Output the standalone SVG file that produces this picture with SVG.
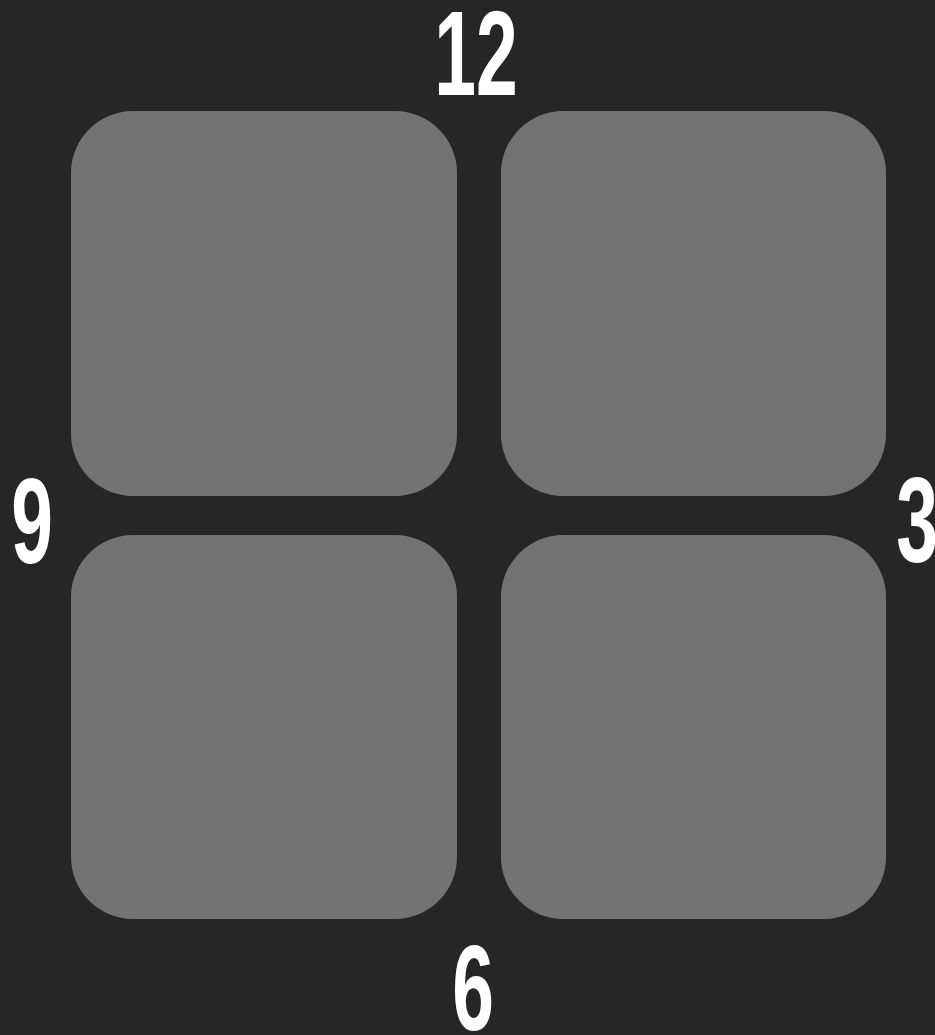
<svg xmlns="http://www.w3.org/2000/svg" width="935" height="1035" viewBox="0 0 935 1035">
<style>
.q{fill:#737373}
.n{fill:#ffffff;font-family:"Liberation Sans","DejaVu Sans",sans-serif;font-weight:bold;font-size:121px;text-anchor:middle}
</style>
<rect width="935" height="1035" fill="#262626"/>
<g id="q-top-left"><rect class="q" x="71" y="111" width="386" height="385" rx="62"/></g>
<g id="q-top-right"><rect class="q" x="501" y="111" width="385" height="385" rx="62"/></g>
<g id="q-bottom-left"><rect class="q" x="71" y="535" width="386" height="384" rx="62"/></g>
<g id="q-bottom-right"><rect class="q" x="501" y="535" width="385" height="384" rx="62"/></g>
<g id="labels">
<text class="n" transform="translate(476,95) scale(0.62,1)">12</text>
<text class="n" transform="translate(32,563) scale(0.62,1)">9</text>
<text class="n" transform="translate(917,562) scale(0.62,1)">3</text>
<text class="n" transform="translate(473,1030) scale(0.62,1)">6</text>
</g>
<g id="connectors"></g>
</svg>
